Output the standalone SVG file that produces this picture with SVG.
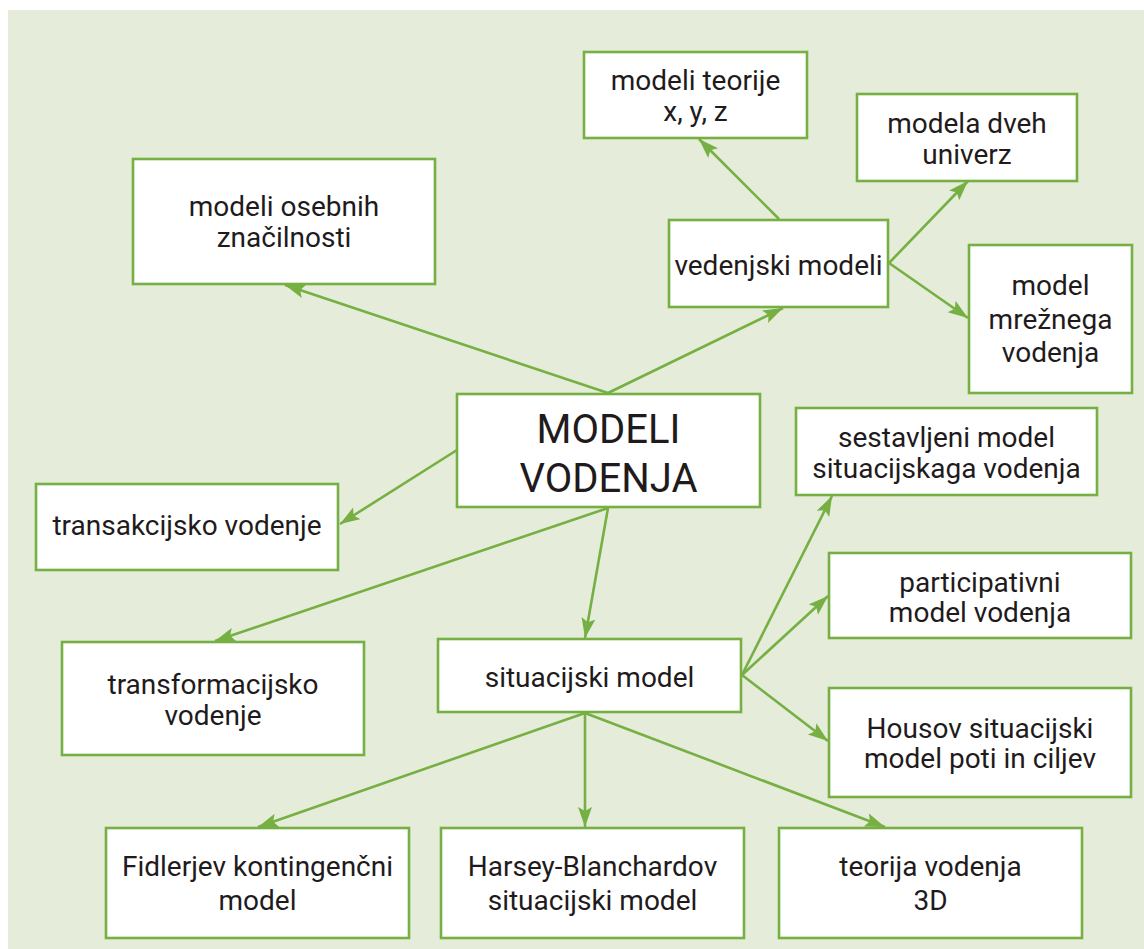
<svg xmlns="http://www.w3.org/2000/svg" width="1144" height="949" viewBox="0 0 1144 949">
<defs>
<marker id="ah" markerUnits="userSpaceOnUse" markerWidth="22" markerHeight="16" refX="20" refY="7" orient="auto">
<path d="M0,0 L20,7 L0,14 L4,7 z" fill="#76b043"/>
</marker>
<style>
.box{fill:#fff;stroke:#76b043;stroke-width:2.6}
.t{font-family:Roboto,"Liberation Sans",sans-serif;font-size:28px;fill:#1f1b1c;text-anchor:middle}
.big{font-family:Roboto,"Liberation Sans",sans-serif;font-size:40px;fill:#1f1b1c;text-anchor:middle}
.c{stroke:#76b043;stroke-width:2.6;fill:none;marker-end:url(#ah)}
</style>
</defs>
<rect x="0" y="0" width="1144" height="949" fill="#fff"/>
<rect x="8" y="10" width="1136" height="939" fill="#e5ecda"/>
<g id="connectors">
<line class="c" x1="608" y1="393" x2="285" y2="285"/>
<line class="c" x1="608" y1="393" x2="783" y2="308"/>
<line class="c" x1="779" y1="219" x2="699" y2="139"/>
<line class="c" x1="889" y1="263" x2="968" y2="181"/>
<line class="c" x1="889" y1="263" x2="968" y2="318"/>
<line class="c" x1="457" y1="450" x2="340" y2="524"/>
<line class="c" x1="608" y1="508" x2="215" y2="641"/>
<line class="c" x1="608" y1="508" x2="585" y2="638"/>
<line class="c" x1="742" y1="675" x2="832" y2="496"/>
<line class="c" x1="742" y1="675" x2="828" y2="596"/>
<line class="c" x1="742" y1="675" x2="828" y2="741"/>
<line class="c" x1="585" y1="713" x2="258" y2="827"/>
<line class="c" x1="585" y1="713" x2="585" y2="827"/>
<line class="c" x1="585" y1="713" x2="885" y2="827"/>
</g>
<g id="n-teorije"><rect class="box" x="584" y="52" width="223" height="86"/><text class="t" x="695.5" y="90">modeli teorije</text><text class="t" x="695.5" y="121">x, y, z</text></g>
<g id="n-dveh"><rect class="box" x="857" y="94" width="220" height="87"/><text class="t" x="967" y="133">modela dveh</text><text class="t" x="967" y="164">univerz</text></g>
<g id="n-osebnih"><rect class="box" x="133" y="159" width="302" height="125"/><text class="t" x="284" y="216">modeli osebnih</text><text class="t" x="284" y="247">značilnosti</text></g>
<g id="n-vedenjski"><rect class="box" x="669" y="220" width="219" height="87"/><text class="t" x="778.5" y="275">vedenjski modeli</text></g>
<g id="n-mreznega"><rect class="box" x="969" y="245" width="163" height="148"/><text class="t" x="1050.5" y="295">model</text><text class="t" x="1050.5" y="329">mrežnega</text><text class="t" x="1050.5" y="362">vodenja</text></g>
<g id="n-modeli"><rect class="box" x="457" y="394" width="303" height="113"/><text class="big" x="608.5" y="443">MODELI</text><text class="big" x="608.5" y="492">VODENJA</text></g>
<g id="n-sestavljeni"><rect class="box" x="796" y="408" width="301" height="87"/><text class="t" x="946.5" y="447">sestavljeni model</text><text class="t" x="946.5" y="478">situacijskaga vodenja</text></g>
<g id="n-transakcijsko"><rect class="box" x="36" y="484" width="302" height="86"/><text class="t" x="187" y="535">transakcijsko vodenje</text></g>
<g id="n-participativni"><rect class="box" x="829" y="553" width="302" height="85"/><text class="t" x="980" y="592">participativni</text><text class="t" x="980" y="622">model vodenja</text></g>
<g id="n-transformacijsko"><rect class="box" x="62" y="642" width="302" height="113"/><text class="t" x="213" y="694">transformacijsko</text><text class="t" x="213" y="725">vodenje</text></g>
<g id="n-situacijski"><rect class="box" x="438" y="639" width="303" height="73"/><text class="t" x="589.5" y="687">situacijski model</text></g>
<g id="n-housov"><rect class="box" x="829" y="688" width="302" height="109"/><text class="t" x="980" y="738">Housov situacijski</text><text class="t" x="980" y="768">model poti in ciljev</text></g>
<g id="n-fidlerjev"><rect class="box" x="106" y="828" width="303" height="110"/><text class="t" x="257.5" y="876">Fidlerjev kontingenčni</text><text class="t" x="257.5" y="910">model</text></g>
<g id="n-harsey"><rect class="box" x="441" y="828" width="303" height="110"/><text class="t" x="592.5" y="876">Harsey-Blanchardov</text><text class="t" x="592.5" y="910">situacijski model</text></g>
<g id="n-3d"><rect class="box" x="779" y="828" width="303" height="110"/><text class="t" x="930.5" y="876">teorija vodenja</text><text class="t" x="930.5" y="910">3D</text></g>
</svg>
